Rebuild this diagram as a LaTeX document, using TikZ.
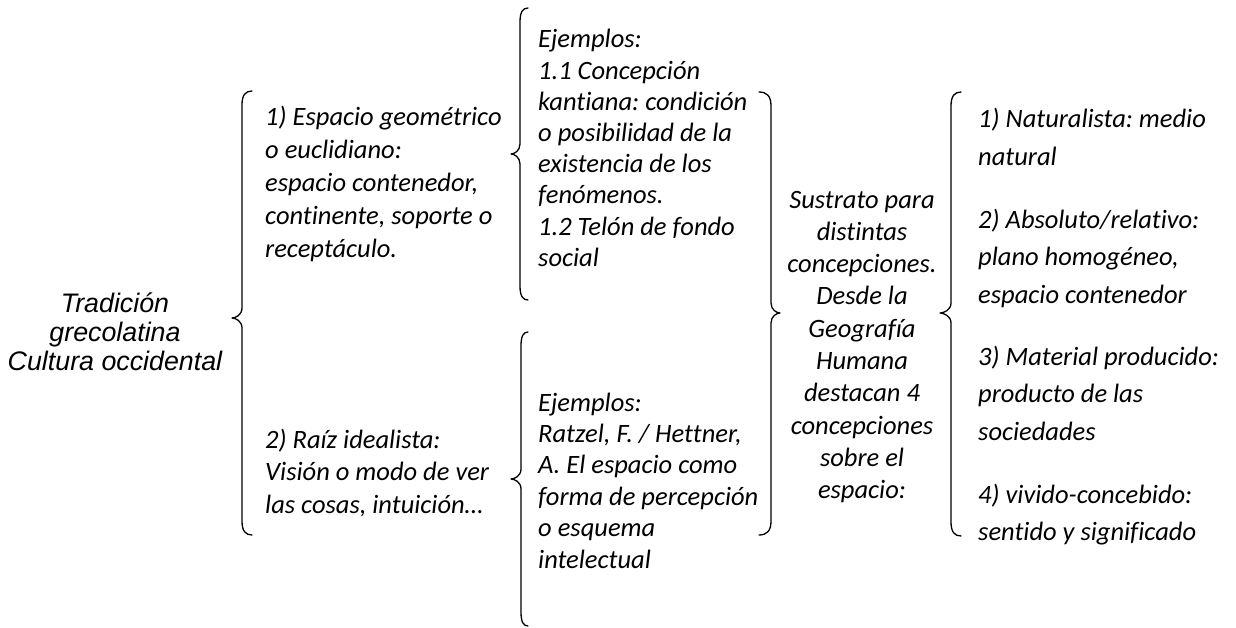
\documentclass[tikz,border=0pt]{standalone}
\usepackage{fontspec}
\setmainfont{Carlito}[Ligatures={NoCommon}]
\newfontfamily\arialfont{Liberation Sans}
\frenchspacing
\newcommand{\wbrace}[6]{% ends x, line x, tip x, top y, mid y, bottom y
  \draw[bracestyle] (#1,#4) .. controls ({#2+0.35*(#1-#2)},#4) and (#2,{#4+4}) .. (#2,{#4+14})
    -- (#2,{#5-10}) .. controls (#2,{#5-3}) and ({#3+0.35*(#2-#3)},#5) .. (#3,#5)
    .. controls ({#3+0.35*(#2-#3)},#5) and (#2,{#5+3}) .. (#2,{#5+10})
    -- (#2,{#6-14}) .. controls (#2,{#6-4}) and ({#2+0.35*(#1-#2)},#6) .. (#1,#6);}
\begin{document}
\begin{tikzpicture}[x=1pt,y=-1pt,
  bracestyle/.style={draw=black, line width=1.3pt, line join=round, line cap=round},
  txt/.style={inner sep=0pt, align=left, anchor=base west,
    font=\fontsize{26.5}{33}\selectfont\itshape\frenchspacing},
  ctxt/.style={inner sep=0pt, align=center, anchor=base,
    font=\fontsize{26.5}{32.3}\selectfont\itshape\frenchspacing},
  rtxt/.style={inner sep=0pt, align=left, anchor=base west,
    font=\fontsize{26.5}{37.5}\selectfont\itshape\frenchspacing},
  ltxt/.style={inner sep=0pt, align=center, anchor=base,
    font=\arialfont\fontsize{26.8}{29}\selectfont\itshape}]
\fill[white] (0,0) rectangle (1236,628);
\useasboundingbox (0,0) rectangle (1236,628);

% left title (anchor = baseline of last line)
\node[ltxt] (trad) at (115,370) {Tradición\\grecolatina\\Cultura occidental};

% braces
\wbrace{252}{242}{232}{91}{318}{535}
\wbrace{528}{520}{511}{8}{154}{300}
\wbrace{528}{521}{511}{332}{479}{626}
\wbrace{759}{771}{780}{92}{313}{535}
\wbrace{961}{951}{940}{92}{313}{536}

% column 1
\node[txt] (esp) at (265,258) {1) Espacio geométrico\\o euclidiano:\\espacio contenedor,\\continente, soporte o\\receptáculo.};
\node[txt, font=\fontsize{26.5}{32.5}\selectfont\itshape\frenchspacing] (raiz) at (265,513) {2) Raíz idealista:\\Visión o modo de ver\\las cosas, intuición…};

% column 2
\node[txt, font=\fontsize{26.5}{31.2}\selectfont\itshape\frenchspacing] (ej1) at (538,266.4) {Ejemplos:\\1.1 Concepción\\kantiana: condición\\o posibilidad de la\\existencia de los\\fenómenos.\\1.2 Telón de fondo\\social};
\node[txt, font=\fontsize{26.5}{31.4}\selectfont\itshape\frenchspacing] (ej2) at (538,568) {Ejemplos:\\Ratzel, F. / Hettner,\\A. El espacio como\\forma de percepción\\o esquema\\intelectual};

% centre
\node[ctxt] (sust) at (862,498.7) {Sustrato para\\distintas\\concepciones.\\Desde la\\Geografía\\Humana\\destacan 4\\concepciones\\sobre el\\espacio:};

% right column
\node[rtxt] (c1) at (978,165.5) {1) Naturalista: medio\\natural};
\node[rtxt] (c2) at (978,303) {2) Absoluto/relativo:\\plano homogéneo,\\espacio contenedor};
\node[rtxt] (c3) at (978,440) {3) Material producido:\\producto de las\\sociedades};
\node[rtxt] (c4) at (978,540.5) {4) vivido-concebido:\\sentido y significado};
\end{tikzpicture}
\end{document}
